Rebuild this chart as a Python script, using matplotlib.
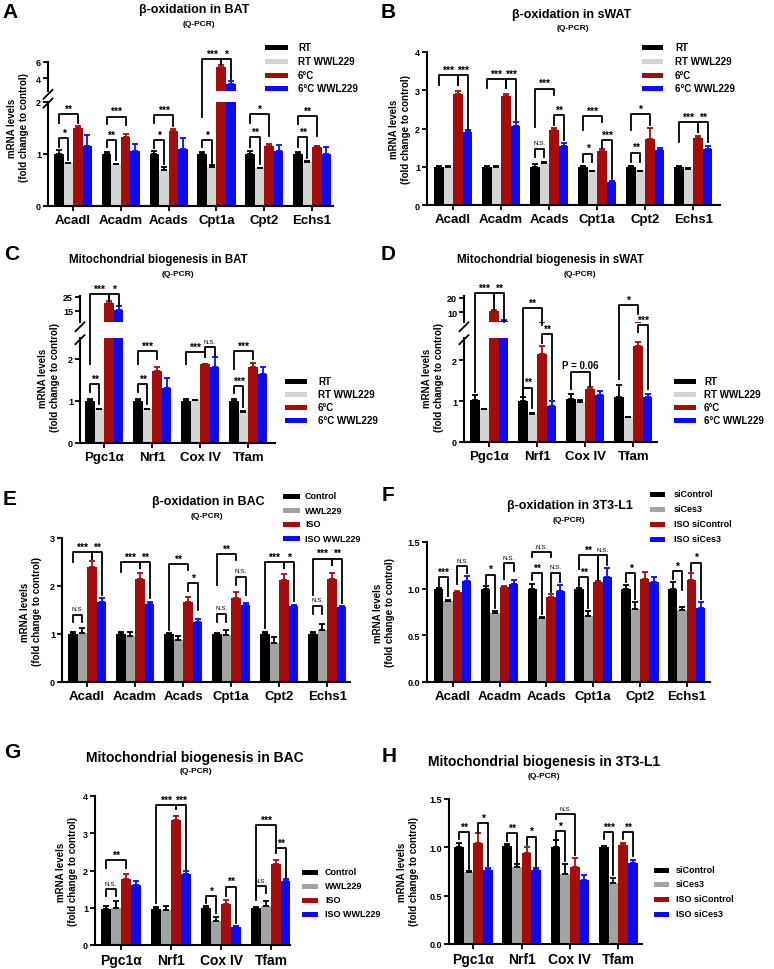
import numpy as np
import matplotlib.pyplot as plt
from matplotlib.lines import Line2D
from matplotlib.patches import Rectangle

plt.rcParams['font.family'] = ['Liberation Sans', 'DejaVu Sans']
plt.rcParams['font.weight'] = 'bold'

W, H = 774, 970
fig = plt.figure(figsize=(W / 100, H / 100), dpi=100)

beta_genes = ["Acadl", "Acadm", "Acads", "Cpt1a", "Cpt2", "Echs1"]
mito_genes = ["Pgc1α", "Nrf1", "Cox IV", "Tfam"]
mouse_groups = ["RT", "RT WWL229", "6°C", "6°C WWL229"]
bac_groups = ["Control", "WWL229", "ISO", "ISO WWL229"]
l1_groups = ["siControl", "siCes3", "ISO siControl", "ISO siCes3"]

# rows follow the group order, columns follow the genes
a_mean = [[1.0, 1.0, 1.0, 1.0, 1.0, 1.0],
          [0.82, 0.80, 0.70, 0.75, 0.73, 0.85],
          [1.50, 1.33, 1.45, 5.40, 1.15, 1.13],
          [1.16, 1.05, 1.10, 3.30, 1.05, 1.00]]
a_err = [[0.07, 0.04, 0.05, 0.04, 0.05, 0.03],
         [0.01, 0.01, 0.05, 0.03, 0.01, 0.02],
         [0.04, 0.05, 0.04, 0.25, 0.04, 0.03],
         [0.20, 0.15, 0.20, 0.40, 0.12, 0.14]]

b_mean = [[1.0, 1.0, 1.0, 1.0, 1.0, 1.0],
          [1.00, 1.00, 1.10, 0.88, 0.88, 0.95],
          [2.90, 2.85, 1.95, 1.42, 1.73, 1.75],
          [1.90, 2.07, 1.55, 0.60, 1.45, 1.47]]
b_err = [[0.02, 0.02, 0.06, 0.03, 0.03, 0.03],
         [0.03, 0.03, 0.03, 0.02, 0.02, 0.02],
         [0.07, 0.04, 0.07, 0.04, 0.28, 0.06],
         [0.06, 0.10, 0.08, 0.02, 0.05, 0.06]]

c_mean = [[1.0, 1.0, 1.0, 1.0],
          [0.80, 0.80, 1.02, 0.75],
          [20.7, 1.72, 1.87, 1.80],
          [15.2, 1.30, 1.82, 1.65]]
c_err = [[0.04, 0.04, 0.04, 0.04],
         [0.01, 0.01, 0.01, 0.01],
         [1.5, 0.10, 0.02, 0.10],
         [3.0, 0.25, 0.22, 0.15]]

d_mean = [[1.02, 1.00, 1.05, 1.10],
          [0.80, 0.68, 0.98, 0.60],
          [10.7, 2.15, 1.30, 2.35],
          [3.8, 0.88, 1.15, 1.10]]
d_err = [[0.13, 0.10, 0.12, 0.30],
         [0.01, 0.02, 0.05, 0.02],
         [0.8, 0.20, 0.04, 0.10],
         [0.3, 0.13, 0.10, 0.07]]

e_mean = [[1.0, 1.0, 1.0, 1.0, 1.0, 1.0],
          [1.03, 0.95, 0.88, 0.97, 0.82, 1.08],
          [2.40, 2.15, 1.67, 1.75, 2.12, 2.15],
          [1.67, 1.63, 1.25, 1.60, 1.58, 1.56]]
e_err = [[0.05, 0.05, 0.02, 0.03, 0.05, 0.04],
         [0.10, 0.10, 0.08, 0.12, 0.12, 0.12],
         [0.12, 0.13, 0.10, 0.13, 0.14, 0.12],
         [0.07, 0.03, 0.06, 0.04, 0.03, 0.02]]

f_mean = [[1.0, 1.0, 1.0, 1.0, 1.0, 1.0],
          [0.87, 0.74, 0.69, 0.71, 0.78, 0.77],
          [0.96, 1.02, 0.91, 1.07, 1.10, 1.09],
          [1.08, 1.05, 0.97, 1.12, 1.07, 0.79]]
f_err = [[0.01, 0.03, 0.05, 0.01, 0.04, 0.07],
         [0.01, 0.02, 0.01, 0.05, 0.08, 0.03],
         [0.02, 0.01, 0.03, 0.01, 0.08, 0.08],
         [0.06, 0.04, 0.07, 0.10, 0.06, 0.07]]

g_mean = [[0.97, 0.97, 1.00, 0.98],
          [1.00, 0.95, 0.65, 1.05],
          [1.78, 3.35, 1.10, 2.18],
          [1.60, 1.90, 0.48, 1.73]]
g_err = [[0.08, 0.06, 0.05, 0.05],
         [0.18, 0.10, 0.10, 0.13],
         [0.13, 0.10, 0.10, 0.10],
         [0.13, 0.10, 0.02, 0.03]]

h_mean = [[1.00, 1.01, 1.00, 1.00],
          [0.75, 0.80, 0.72, 0.63],
          [1.05, 0.94, 0.80, 1.02],
          [0.77, 0.77, 0.66, 0.84]]
h_err = [[0.04, 0.02, 0.08, 0.01],
         [0.01, 0.03, 0.11, 0.05],
         [0.10, 0.06, 0.09, 0.03],
         [0.02, 0.02, 0.05, 0.03]]

# significance brackets: gene, bar a, bar b, top, left leg end, right leg end, label
a_sig = [(0, 0, 1, 1.31, 1.14, 0.88, '*'), (0, 0, 2, 1.76, 1.60, 1.59, '**'),
         (1, 0, 1, 1.27, 1.14, 0.88, '**'), (1, 0, 2, 1.72, 1.57, 1.55, '***'),
         (2, 0, 1, 1.27, 1.12, 0.80, '*'), (2, 0, 2, 1.75, 1.60, 1.53, '***'),
         (3, 0, 1, 1.27, 1.13, 0.82, '*'), (3, 0, 2, 2.83, 1.71, 2.73, '***'),
         (3, 2, 3, 2.83, 2.73, 2.44, '*'),
         (4, 0, 2, 1.76, 1.60, 1.35, '*'), (4, 0, 1, 1.33, 1.14, 0.80, '**'),
         (5, 0, 2, 1.73, 1.57, 1.35, '**'), (5, 0, 1, 1.33, 1.14, 0.92, '**')]
b_sig = [(0, 0, 2, 3.39, 3.13, 3.13, '***'), (0, 2, 3, 3.39, 3.13, 1.96, '***'),
         (1, 0, 2, 3.30, 3.07, 3.07, '***'), (1, 2, 3, 3.30, 3.07, 2.22, '***'),
         (2, 0, 2, 3.04, 2.04, 2.88, '***'), (2, 0, 1, 1.47, 1.25, 1.25, 'N.S.'),
         (2, 2, 3, 2.35, 2.09, 1.70, '**'),
         (3, 0, 2, 2.33, 1.96, 2.18, '***'), (3, 0, 1, 1.34, 1.13, 1.13, '*'),
         (3, 2, 3, 1.70, 1.48, 0.68, '***'),
         (4, 0, 2, 2.37, 1.96, 2.10, '*'), (4, 0, 1, 1.37, 1.13, 1.13, '**'),
         (5, 0, 2, 2.16, 1.65, 1.90, '***'), (5, 2, 3, 2.16, 1.90, 1.65, '**')]
c_sig = [(0, 0, 2, 3.55, 1.88, 3.39, '***'), (0, 2, 3, 3.55, 3.39, 3.27, '*'),
         (0, 0, 1, 1.40, 1.21, 0.92, '**'),
         (1, 0, 2, 2.19, 1.88, 2.00, '***'), (1, 0, 1, 1.40, 1.21, 0.92, '**'),
         (2, 0, 2, 2.17, 1.88, 2.05, '***'), (2, 2, 3, 2.28, 2.05, 2.08, 'N.S.'),
         (3, 0, 2, 2.19, 1.76, 2.00, '***'), (3, 0, 1, 1.36, 1.19, 0.85, '***')]
d_sig = [(0, 0, 2, 3.63, 1.22, 3.21, '***'), (0, 2, 3, 3.63, 3.49, 2.94, '**'),
         (1, 0, 2, 3.27, 1.13, 2.85, '**'), (1, 0, 1, 1.33, 1.13, 0.84, '**'),
         (1, 2, 3, 2.64, 2.43, 1.05, '**'),
         (2, 0, 2, 1.71, 1.29, 1.37, 'P = 0.06'),
         (3, 0, 2, 3.34, 1.54, 3.12, '*'), (3, 2, 3, 2.85, 2.68, 1.29, '***')]
e_sig = [(0, 0, 1, 1.40, 1.24, 1.24, 'N.S.'), (0, 0, 2, 2.71, 2.51, 2.57, '***'),
         (0, 2, 3, 2.71, 2.57, 1.82, '**'),
         (1, 0, 2, 2.49, 2.30, 2.37, '***'), (1, 2, 3, 2.49, 2.37, 1.75, '**'),
         (2, 0, 2, 2.46, 1.09, 2.34, '**'), (2, 2, 3, 2.06, 1.89, 1.49, '*'),
         (3, 0, 2, 2.67, 2.03, 2.55, '**'), (3, 0, 1, 1.42, 1.24, 1.24, 'N.S.'),
         (3, 2, 3, 2.19, 2.03, 1.82, 'N.S.'),
         (4, 0, 2, 2.49, 1.13, 2.37, '***'), (4, 2, 3, 2.49, 2.37, 1.68, '*'),
         (5, 0, 1, 1.59, 1.42, 1.42, 'N.S.'), (5, 0, 2, 2.57, 1.82, 2.44, '***'),
         (5, 2, 3, 2.57, 2.44, 1.65, '**')]
f_sig = [(0, 0, 1, 1.12, 1.03, 0.92, '***'), (0, 2, 3, 1.24, 1.05, 1.17, 'N.S.'),
         (1, 0, 1, 1.15, 1.05, 0.79, '*'), (1, 2, 3, 1.27, 1.10, 1.19, 'N.S.'),
         (2, 0, 2, 1.39, 1.34, 1.34, 'N.S.'), (2, 0, 1, 1.17, 1.09, 0.73, '**'),
         (2, 2, 3, 1.17, 0.96, 1.07, 'N.S.'),
         (3, 0, 1, 1.12, 1.03, 0.79, '**'), (3, 0, 2, 1.36, 1.21, 1.09, '**'),
         (3, 2, 3, 1.36, 1.09, 1.25, 'N.S.'),
         (4, 0, 1, 1.17, 1.07, 0.89, '*'),
         (5, 0, 1, 1.19, 1.10, 0.99, '*'), (5, 2, 3, 1.28, 1.19, 0.89, '*')]
g_sig = [(0, 0, 2, 2.28, 2.07, 2.07, '**'), (0, 0, 1, 1.49, 1.31, 1.31, 'N.S.'),
         (1, 0, 2, 3.75, 1.12, 3.64, '***'), (1, 2, 3, 3.75, 3.64, 2.03, '***'),
         (2, 0, 1, 1.31, 1.14, 0.87, '*'), (2, 2, 3, 1.57, 1.31, 0.60, '**'),
         (3, 0, 2, 3.21, 1.22, 2.61, '***'), (3, 0, 1, 1.58, 1.31, 1.40, 'N.S.'),
         (3, 2, 3, 2.61, 2.48, 1.80, '**')]
h_sig = [(0, 0, 1, 1.16, 1.09, 0.78, '**'), (0, 2, 3, 1.25, 1.15, 0.81, '*'),
         (1, 0, 1, 1.15, 1.07, 0.83, '**'), (1, 2, 3, 1.11, 1.02, 0.79, '*'),
         (2, 0, 1, 1.17, 1.09, 0.86, '*'), (2, 0, 2, 1.34, 1.29, 0.92, 'N.S.'),
         (3, 0, 1, 1.16, 1.09, 0.71, '***'), (3, 2, 3, 1.16, 1.09, 0.91, '**')]

offsets = [-0.3, -0.1, 0.1, 0.3]
RED = '#a50d0d'
BLUE = '#0a0aff'
LIGHT = ['black', '#d4d4d4', RED, BLUE]
DARK = ['black', '#a3a3a3', RED, BLUE]


def fx(x):
    return x / W


def fy(y):
    return 1 - y / H


def box(x0, x1, ytop, ybot):
    return [fx(x0), fy(ybot), (x1 - x0) / W, (ybot - ytop) / H]


def frame(ax, xlim, ylim, yticks, ylabels):
    ax.set_xlim(xlim)
    ax.set_ylim(ylim)
    ax.set_yticks(yticks)
    ax.set_yticklabels(ylabels, fontsize=6.5, fontweight='bold')
    ax.set_facecolor('none')
    for s in ('top', 'right'):
        ax.spines[s].set_visible(False)
    for s in ('left', 'bottom'):
        ax.spines[s].set_linewidth(1.5)
    ax.tick_params(axis='y', length=3.5, width=1.3, pad=1.5)
    ax.tick_params(axis='x', length=3.5, width=1.3, pad=2)


def draw_bars(ax, means, errs, colors):
    x = np.arange(len(means[0]))
    ecol = ['black', 'black', RED, BLUE]
    for k in range(4):
        ax.bar(x + offsets[k], means[k], width=0.2, color=colors[k], zorder=2)
        ax.errorbar(x + offsets[k], means[k], yerr=[np.zeros(len(x)), errs[k]],
                    fmt='none', ecolor=ecol[k], elinewidth=1.3, capsize=2.2,
                    capthick=1.3, zorder=3)


def panel(px, py, xlim, ylim, yticks, ylabels, genes, means, errs, colors, sig,
          xsize=9.5, upper=None):
    if upper:
        uy, ulim, uticks = upper
        au = fig.add_axes(box(px[0], px[1], uy[0], uy[1]))
        draw_bars(au, means, errs, colors)
        frame(au, xlim, ulim, uticks, [str(t) for t in uticks])
        au.spines['bottom'].set_visible(False)
        au.set_xticks([])
        gap = py[0] - uy[1]
        for yc in (uy[1] + 0.3 * gap, py[0] + 0.1 * gap):
            fig.add_artist(Line2D([fx(px[0] - 4.5), fx(px[0] + 4.5)],
                                  [fy(yc + 4.5), fy(yc - 4.5)], color='black', lw=1.3))
    ax = fig.add_axes(box(px[0], px[1], py[0], py[1]))
    draw_bars(ax, means, errs, colors)
    frame(ax, xlim, ylim, yticks, ylabels)
    ax.set_xticks(np.arange(len(genes)))
    ax.set_xticklabels(genes, fontsize=xsize, fontweight='bold')
    for g, a, b, top, ya, yb, lab in sig:
        xa, xb = g + offsets[a], g + offsets[b]
        ax.plot([xa, xa, xb, xb], [ya, top, top, yb], color='black', lw=1.3,
                clip_on=False, zorder=4)
        if lab == 'N.S.':
            size, weight, off = 4.5, 'normal', 2.5
        elif lab.startswith('P'):
            size, weight, off = 7, 'bold', 1.5
        else:
            size, weight, off = 7.5, 'bold', 0.3
        ax.annotate(lab, ((xa + xb) / 2, top), xytext=(0, off), textcoords='offset points',
                    ha='center', va='bottom', fontsize=size, fontweight=weight,
                    annotation_clip=False)
    return ax


def legend(px0, px1, tx, rows, labels, colors, size):
    for y, lab, c in zip(rows, labels, colors):
        fig.add_artist(Rectangle((fx(px0), fy(y + 2.5)), (px1 - px0) / W, 5 / H,
                                 transform=fig.transFigure, color=c, lw=0))
        fig.text(fx(tx), fy(y), lab, ha='left', va='center', fontsize=size,
                 fontweight='bold')


def titles(letter, lxy, title, txy, tsize, sxy):
    fig.text(fx(lxy[0]), fy(lxy[1]), letter, ha='left', va='center', fontsize=15,
             fontweight='bold')
    fig.text(fx(txy[0]), fy(txy[1]), title, ha='center', va='center', fontsize=tsize,
             fontweight='bold')
    fig.text(fx(sxy[0]), fy(sxy[1]), '(Q-PCR)', ha='center', va='center', fontsize=6,
             fontweight='bold')


def ylabel(x, y):
    fig.text(fx(x), fy(y), 'mRNA levels\n(fold change to control)', rotation=90,
             ha='center', va='center', fontsize=7, fontweight='bold', linespacing=1.3)


# A
panel((48, 333), (103, 207), (-0.525, 5.4375), (0, 2), [0, 1, 2], ['0', '1', '2'],
      beta_genes, a_mean, a_err, LIGHT, a_sig, upper=((63, 92), (2.4, 6), [4, 6]))
titles('A', (2, 13), 'β-oxidation in BAT', (194, 10), 9, (199, 24))
legend(265, 288, 298, [48, 62, 76, 89], mouse_groups, LIGHT, 7)
ylabel(18, 128)

# B
panel((427, 720), (53, 206), (-0.546, 5.558), (0, 4), [0, 1, 2, 3, 4],
      ['0', '1', '2', '3', '4'], beta_genes, b_mean, b_err, LIGHT, b_sig)
titles('B', (381, 12), 'β-oxidation in sWAT', (572, 15), 9, (573, 29))
legend(642, 663, 675, [48, 62, 76, 89], mouse_groups, LIGHT, 7)
ylabel(400, 129)

# C
panel((80, 275), (339, 444), (-0.504, 3.558), (0, 2.5), [0, 1, 2], ['0', '1', '2'],
      mito_genes, c_mean, c_err, LIGHT, c_sig, upper=((297, 323), (7, 25.5), [15, 25]))
titles('C', (4, 255), 'Mitochondrial biogenesis in BAT', (158, 260), 8.3, (178, 274))
legend(285, 307, 318, [382, 395, 408, 421], mouse_groups, LIGHT, 7)
ylabel(49, 378)

# D
panel((464, 657), (339, 443), (-0.525, 3.496), (0, 2.54), [0, 1, 2], ['0', '1', '2'],
      mito_genes, d_mean, d_err, LIGHT, d_sig, upper=((297, 323), (3, 21.4), [10, 20]))
titles('D', (381, 255), 'Mitochondrial biogenesis in sWAT', (550, 260), 8.3, (580, 274))
legend(674, 696, 704, [382, 395, 408, 421], mouse_groups, LIGHT, 7)
ylabel(433, 378)

# E
panel((62, 350), (539, 683), (-0.525, 5.475), (0, 3), [0, 1, 2, 3],
      ['0', '1', '2', '3'], beta_genes, e_mean, e_err, DARK, e_sig)
titles('E', (3, 500), 'β-oxidation in BAC', (208, 502), 9, (207, 516))
legend(283, 300, 305, [497, 511, 525, 539], bac_groups, DARK, 6.5)
ylabel(31, 612)

# F
panel((427, 710), (543, 683), (-0.55, 5.497), (0, 1.5), [0, 0.5, 1.0, 1.5],
      ['0.0', '0.5', '1.0', '1.5'], beta_genes, f_mean, f_err, DARK, f_sig)
titles('F', (382, 496), 'β-oxidation in 3T3-L1', (570, 506), 9, (569, 520))
legend(650, 665, 674, [495, 510, 525, 540], l1_groups, DARK, 6.5)
ylabel(384, 613)

# G
panel((95, 290), (797, 946), (-0.52, 3.38), (0, 4), [0, 1, 2, 3, 4],
      ['0', '1', '2', '3', '4'], mito_genes, g_mean, g_err, DARK, g_sig, xsize=10)
titles('G', (4, 752), 'Mitochondrial biogenesis in BAC', (195, 758), 10, (196, 772))
legend(302, 318, 325, [873, 887, 901, 915], bac_groups, DARK, 6.5)
ylabel(67, 872)

# H
panel((449, 642), (800, 945), (-0.504, 3.49), (0, 1.5), [0, 0.5, 1.0, 1.5],
      ['0.0', '0.5', '1.0', '1.5'], mito_genes, h_mean, h_err, DARK, h_sig, xsize=10)
titles('H', (382, 757), 'Mitochondrial biogenesis in 3T3-L1', (544, 762), 10, (544, 777))
legend(654, 669, 676, [871, 885, 900, 915], l1_groups, DARK, 6.5)
ylabel(408, 872)

fig.savefig('out.png', dpi=100)
